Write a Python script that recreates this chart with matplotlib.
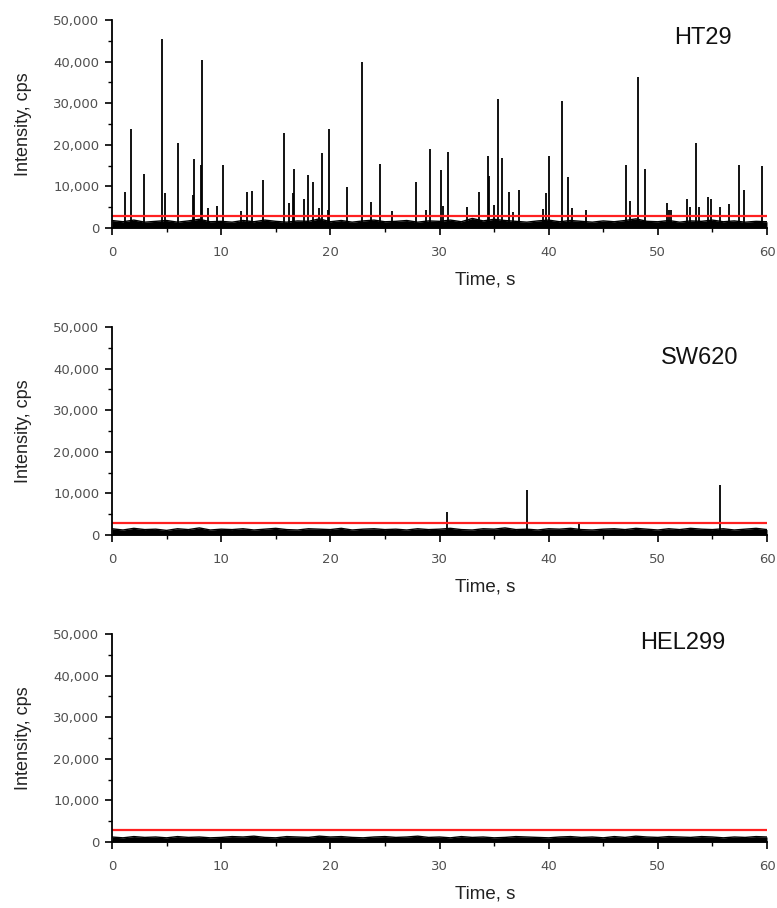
import matplotlib.pyplot as plt
from matplotlib.ticker import MultipleLocator, FuncFormatter

# spike events: time (s) and peak intensity (cps)
ht29_t = [1.22, 1.74, 2.96, 4.61, 4.88, 6.01, 7.40, 7.51, 8.15, 8.27,
          8.75, 9.62, 10.13, 11.78, 12.39, 12.79, 13.80, 15.78, 16.18, 16.57,
          16.69, 17.55, 17.91, 18.43, 18.95, 19.23, 19.80, 19.90, 21.49, 22.89,
          23.75, 24.51, 25.65, 27.81, 28.72, 29.09, 30.16, 30.30, 30.74, 32.54,
          33.61, 34.43, 34.58, 34.98, 35.32, 35.71, 36.33, 36.76, 37.24, 39.50,
          39.77, 39.99, 41.24, 41.79, 42.16, 43.40, 47.07, 47.44, 48.17, 48.87,
          50.82, 51.00, 51.20, 52.63, 52.97, 53.48, 53.80, 54.64, 54.88, 55.65,
          56.53, 57.39, 57.88, 59.55]
ht29_i = [8700, 23900, 13000, 45500, 8300, 20500, 8000, 16600, 15100, 40500,
          4700, 5200, 15200, 4000, 8600, 9000, 11600, 22900, 5900, 8300,
          14200, 7000, 12700, 11000, 4700, 18000, 4300, 23900, 9900, 39900,
          6300, 15300, 4000, 11000, 4300, 18900, 13900, 5200, 18200, 5000,
          8700, 17300, 12600, 5600, 30900, 16900, 8700, 3900, 9200, 4600,
          8300, 17300, 30500, 12300, 4900, 4300, 15200, 6600, 36200, 14300,
          5900, 4400, 4300, 6900, 5000, 20500, 5000, 7500, 7000, 5000,
          5700, 15200, 9200, 14900]

sw620_t = [30.71, 38.00, 42.77, 55.65]
sw620_i = [5600, 10900, 2800, 12000]

hel299_t = []
hel299_i = []

# background level (upper edge of the noise band), one value per second 0..60 s
sec = list(range(61))
ht29_bg = [1800, 1500, 1900, 1400, 1600, 1800, 1400, 1700, 2100, 1500,
           1600, 1400, 1800, 1500, 1900, 1600, 1400, 1700, 1600, 2200,
           1500, 1800, 1400, 1700, 1900, 1500, 1600, 1800, 1400, 1700,
           1600, 1900, 1500, 2300, 1700, 2100, 1800, 1600, 1400, 1700,
           1900, 1500, 1800, 1600, 1400, 1700, 1500, 1800, 2200, 1600,
           1500, 1800, 1400, 1700, 1600, 1900, 1500, 1700, 1400, 1600, 1500]
sw620_bg = [1500, 1200, 1600, 1300, 1400, 1100, 1500, 1300, 1700, 1200,
            1400, 1300, 1500, 1200, 1400, 1600, 1300, 1200, 1500, 1400,
            1300, 1600, 1200, 1400, 1500, 1300, 1400, 1200, 1500, 1300,
            1400, 1600, 1300, 1200, 1500, 1400, 1700, 1300, 1400, 1200,
            1500, 1400, 1600, 1300, 1200, 1400, 1500, 1300, 1600, 1400,
            1200, 1500, 1300, 1600, 1400, 1300, 1500, 1200, 1400, 1600, 1300]
hel299_bg = [1200, 1000, 1300, 1100, 1200, 1000, 1300, 1100, 1200, 1000,
             1100, 1300, 1200, 1400, 1100, 1000, 1300, 1200, 1100, 1400,
             1200, 1300, 1100, 1000, 1200, 1300, 1100, 1200, 1400, 1100,
             1200, 1000, 1300, 1100, 1200, 1000, 1100, 1300, 1200, 1100,
             1000, 1200, 1300, 1100, 1200, 1000, 1300, 1100, 1400, 1200,
             1100, 1300, 1200, 1100, 1300, 1200, 1000, 1200, 1100, 1300, 1200]

thresholds = [2800, 3000, 3000]
names = ["HT29", "SW620", "HEL299"]
spike_t = [ht29_t, sw620_t, hel299_t]
spike_i = [ht29_i, sw620_i, hel299_i]
backgrounds = [ht29_bg, sw620_bg, hel299_bg]

W, H = 777, 908
fig = plt.figure(figsize=(W / 100, H / 100), dpi=100)

bottoms = [228, 535, 842]  # pixel row of y = 0
title_pos = [(703, 38), (700, 358), (683, 643)]

for k in range(3):
    ax = fig.add_axes([112 / W, 1 - bottoms[k] / H, 655 / W, 208 / H])
    ax.fill_between(sec, 0, backgrounds[k], color='black', lw=0)
    ax.plot(sec, backgrounds[k], color='black', lw=1.0)
    ax.vlines(spike_t[k], 0, spike_i[k], color='black', lw=1.3)
    ax.axhline(thresholds[k], color='#ff2020', lw=1.6)

    ax.set_xlim(0, 60)
    ax.set_ylim(0, 50000)
    ax.spines['top'].set_visible(False)
    ax.spines['right'].set_visible(False)
    ax.spines['left'].set_linewidth(1.3)
    ax.spines['bottom'].set_linewidth(1.3)
    ax.xaxis.set_major_locator(MultipleLocator(10))
    ax.xaxis.set_minor_locator(MultipleLocator(5))
    ax.yaxis.set_major_locator(MultipleLocator(10000))
    ax.yaxis.set_minor_locator(MultipleLocator(5000))
    ax.yaxis.set_major_formatter(FuncFormatter(lambda v, p: f"{int(v):,}"))
    ax.tick_params(which='major', direction='out', length=5, width=1.2,
                   labelsize=9.5, labelcolor='#505050')
    ax.tick_params(which='minor', direction='out', length=3, width=1.0)
    ax.tick_params(axis='x', which='major', pad=8)
    ax.tick_params(axis='y', which='major', pad=4)

    ax.set_xlabel("Time, s", fontsize=13.5, family='Liberation Sans', color='#222222')
    ax.xaxis.set_label_coords(0.57, -0.21)
    ax.set_ylabel("Intensity, cps", fontsize=13, family='Liberation Sans', color='#222222')
    ax.yaxis.set_label_coords(-0.122, 0.5)

    tx, ty = title_pos[k]
    fig.text(tx / W, 1 - ty / H, names[k], fontsize=17, family='Liberation Sans',
             ha='center', va='center', color='#111111')

fig.savefig("out.png", dpi=100)
